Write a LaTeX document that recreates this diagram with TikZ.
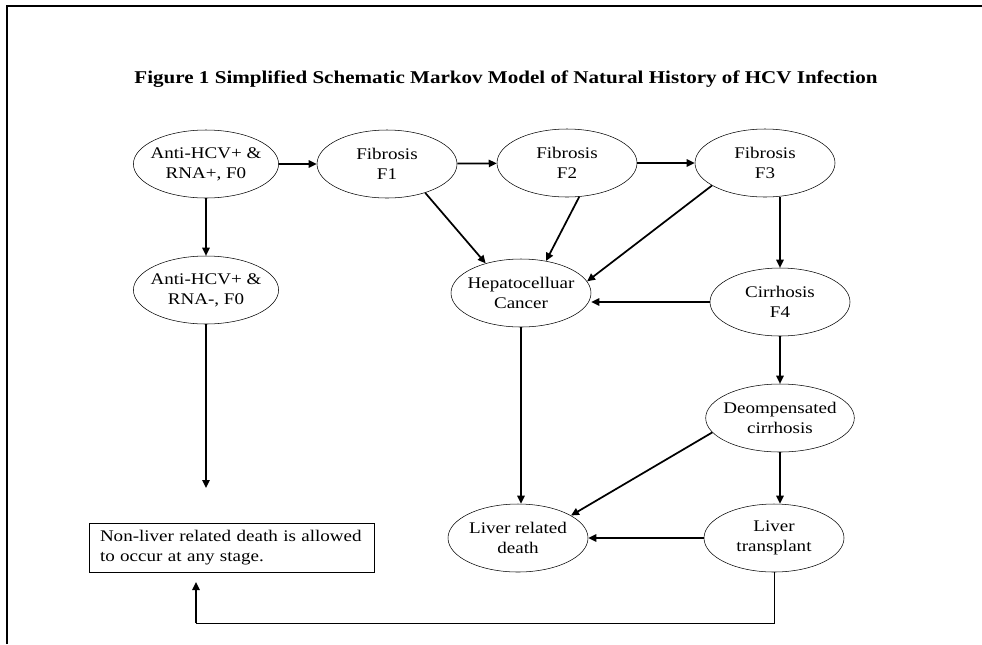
\documentclass[tikz,border=0pt]{standalone}
\usepackage{fontspec}
\setmainfont{Liberation Serif}[FakeStretch=1.17]
\usetikzlibrary{arrows.meta,shapes.geometric}
\tikzset{
  stage/.style={draw,thin,ellipse,align=center,inner xsep=-3pt,inner ysep=0pt,
    minimum width=105pt,minimum height=51pt,font=\fontsize{12.2}{15}\selectfont},
  trans/.style={line width=1.3pt,-{Triangle[length=6pt,width=5.5pt]}},
}

\begin{document}
\begin{tikzpicture}[x=0.75pt,y=-0.75pt]
  \useasboundingbox (0,0) rectangle (982,644);
  % frame, only top and left edges show
  \draw[line width=1.2pt] (7,644) -- (7,6) -- (982,6);
  \node[font=\bfseries\fontsize{13.5}{16}\selectfont] (title) at (506,79)
    {Figure 1 Simplified Schematic Markov Model of Natural History of HCV Infection};

  % states
  \node[stage] (inf) at (206,164) {Anti-HCV+ \&\\RNA+, F0};
  \node[stage] (clr) at (206,290) {Anti-HCV+ \&\\RNA-, F0};
  \node[stage] (f1) at (387,164) {Fibrosis\\F1};
  \node[stage] (f2) at (567,163) {Fibrosis\\F2};
  \node[stage] (f3) at (765,163) {Fibrosis\\F3};
  \node[stage] (hcc) at (521,293) {Hepatocelluar\\Cancer};
  \node[stage] (f4) at (780,302) {Cirrhosis\\F4};
  \node[stage] (dc) at (780,418) {Deompensated\\cirrhosis};
  \node[stage] (lt) at (774,538) {Liver\\transplant};
  \node[stage] (lrd) at (518,538) {Liver related\\death};
  \node[draw,thin,align=left,text width=198pt,inner xsep=8pt,minimum height=36.5pt,
    font=\fontsize{12.2}{15}\selectfont] (nld) at (232,548)
    {Non-liver related death is allowed\\to occur at any stage.};
  \coordinate (dead) at (206,488);
  \coordinate (turn) at (196,623);
  \coordinate (tip) at (196,582);

  % transitions
  \draw[trans] (inf) -- (f1);
  \draw[trans] (f1) -- (f2);
  \draw[trans] (f2) -- (f3);
  \draw[trans] (inf) -- (clr);
  \draw[trans] (clr) -- (dead);
  \draw[trans] (f1.-37) -- (hcc.140);
  \draw[trans] (f2.-70) -- (hcc.52);
  \draw[trans] (f3.203) -- (hcc.10);
  \draw[trans] (f3.south -| f4) -- (f4);
  \draw[trans] (f4.west) -- (hcc.east |- f4.west);
  \draw[trans] (f4) -- (dc);
  \draw[trans] (dc.south) -- (dc.south |- lt.north);
  \draw[trans] (hcc.south) -- (hcc.south |- lrd.north);
  \draw[trans] (dc.192) -- (lrd.23);
  \draw[trans] (lt) -- (lrd);
  \draw[thin] (lt.south) |- (turn);
  \draw[trans] (turn) -- (tip);
\end{tikzpicture}
\end{document}
